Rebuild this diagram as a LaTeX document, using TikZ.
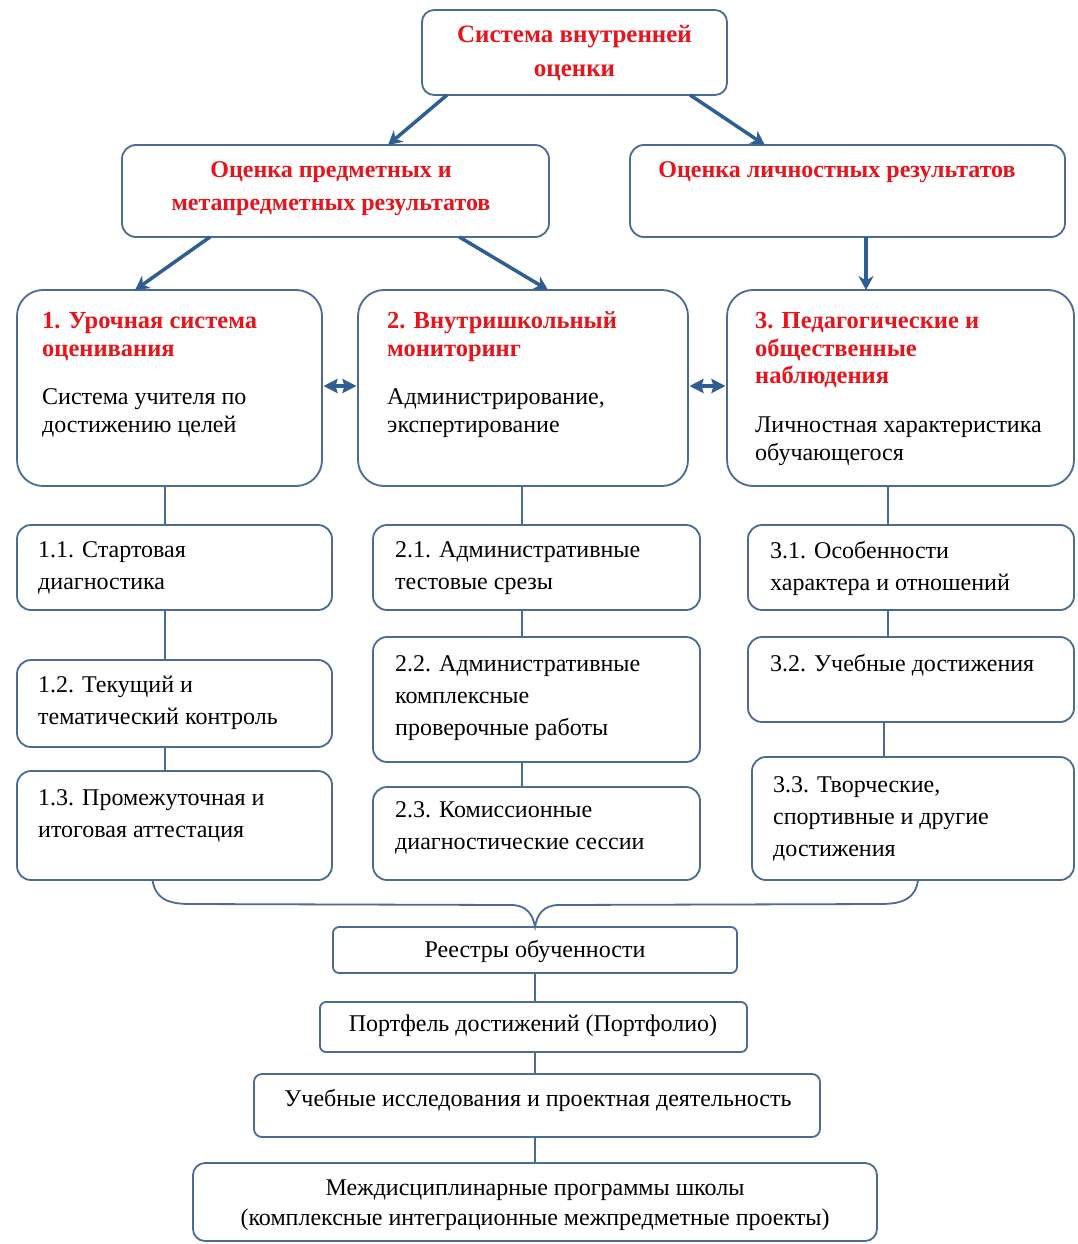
\documentclass[tikz,border=0pt]{standalone}
\usepackage{fontspec}
\setmainfont{Liberation Serif}
\usetikzlibrary{arrows.meta,calc}
\definecolor{bordc}{RGB}{74,107,150}
\definecolor{arrc}{RGB}{46,94,147}
\definecolor{redc}{RGB}{230,20,27}
\newcommand\mkbox[6]{\node[box, rounded corners=#6, minimum width={#4-#2}, minimum height={#5-#3}] (#1) at ({(#2+#4)/2},{(#3+#5)/2}) {};}
\tikzset{
  box/.style={draw=bordc, line width=1.8pt, inner sep=0pt, outer sep=0pt, fill=white},
  ttl/.style={text=redc, font=\bfseries\fontsize{24.5}{27.5}\selectfont, inner sep=0pt, align=left, anchor=west},
  bodytxt/.style={text=black, font=\fontsize{24}{28}\selectfont, inner sep=0pt, align=left, anchor=west},
  subtxt/.style={text=black, font=\fontsize{24}{32}\selectfont, inner sep=0pt, align=left, anchor=west},
  headtxt/.style={text=redc, font=\bfseries\fontsize{24}{33}\selectfont, inner sep=0pt, align=center},
  bottxt/.style={text=black, font=\fontsize{24}{30}\selectfont, inner sep=0pt, align=center},
  arr/.style={draw=arrc, line width=3.5pt, -{Stealth[length=14pt,width=15pt]}},
  darr/.style={draw=arrc, line width=4pt, shorten <=1.5pt, shorten >=1.5pt, {Stealth[length=14pt,width=14pt,inset=2pt]}-{Stealth[length=14pt,width=14pt,inset=2pt]}},
  conn/.style={draw=bordc, line width=1.8pt},
}
\begin{document}
\begin{tikzpicture}[x=1pt,y=-1pt]
\useasboundingbox[fill=white] (0,0) rectangle (1077,1244);
% top levels
\mkbox{top}{422}{10}{727}{95}{12}
\node[headtxt, font=\bfseries\fontsize{25}{34}\selectfont] (topt) at (574.5,53) {Система внутренней\\оценки};
\mkbox{ll}{122}{145}{549}{237}{14}
\node[headtxt] (llt) at (331,188.5) {Оценка предметных и\\метапредметных результатов};
\mkbox{lr}{630}{145}{1065}{237}{14}
\node[headtxt] (lrt) at (837,172) {Оценка личностных результатов};
% third level
\mkbox{b1}{17}{290}{322}{486}{26}
\node[ttl] (b1t) at (42,336.5) {1. Урочная система\\оценивания};
\node[bodytxt] (b1b) at (42,413) {Система учителя по\\достижению целей};
\mkbox{b2}{358}{290}{688}{486}{26}
\node[ttl] (b2t) at (387,336.5) {2. Внутришкольный\\мониторинг};
\node[bodytxt] (b2b) at (387,413) {Администрирование,\\экспертирование};
\mkbox{b3}{727}{290}{1074}{486}{26}
\node[ttl] (b3t) at (755,350.5) {3. Педагогические и\\общественные\\наблюдения};
\node[bodytxt] (b3b) at (755,441.5) {Личностная характеристика\\обучающегося};
% sub boxes
\mkbox{b11}{17}{525}{332}{610}{14}
\node[subtxt] (b11t) at (38,568) {1.1. Стартовая\\диагностика};
\mkbox{b12}{17}{660}{332}{747}{14}
\node[subtxt] (b12t) at (38,702.5) {1.2. Текущий и\\тематический контроль};
\mkbox{b13}{17}{771}{332}{880}{14}
\node[subtxt] (b13t) at (38,815.5) {1.3. Промежуточная и\\итоговая аттестация};
\mkbox{b21}{373}{525}{700}{610}{14}
\node[subtxt] (b21t) at (395,568) {2.1. Административные\\тестовые срезы};
\mkbox{b22}{373}{637}{700}{762}{14}
\node[subtxt] (b22t) at (395,698) {2.2. Административные\\комплексные\\проверочные работы};
\mkbox{b23}{373}{787}{700}{880}{14}
\node[subtxt] (b23t) at (395,827.5) {2.3. Комиссионные\\диагностические сессии};
\mkbox{b31}{748}{525}{1074}{610}{14}
\node[subtxt] (b31t) at (770,568) {3.1. Особенности\\характера и отношений};
\mkbox{b32}{748}{637}{1074}{722}{14}
\node[subtxt] (b32t) at (770,665) {3.2. Учебные достижения};
\mkbox{b33}{752}{757}{1074}{880}{14}
\node[subtxt] (b33t) at (773,818.5) {3.3. Творческие,\\спортивные и другие\\достижения};
% bottom
\mkbox{r1}{333}{927}{737}{973}{6}
\node[bottxt] (r1t) at (535,951) {Реестры обученности};
\mkbox{r2}{320}{1002}{747}{1052}{6}
\node[bottxt] (r2t) at (533,1026) {Портфель достижений (Портфолио)};
\mkbox{r3}{254}{1074}{820}{1137}{8}
\node[bottxt] (r3t) at (538,1100) {Учебные исследования и проектная деятельность};
\mkbox{r4}{193}{1163}{877}{1241}{12}
\node[bottxt] (r4t) at (535,1205) {Междисциплинарные программы школы\\(комплексные интеграционные межпредметные проекты)};
% coordinates for vertical connectors
\coordinate (x1) at (165,0);
\coordinate (x2) at (522,0);
\coordinate (x3) at (888,0);
\coordinate (x3b) at (884,0);
\coordinate (x4) at (535,0);
\coordinate (x5) at (866,0);
\draw[conn] (b1.south -| x1) -- (b11.north -| x1);
\draw[conn] (b11.south -| x1) -- (b12.north -| x1);
\draw[conn] (b12.south -| x1) -- (b13.north -| x1);
\draw[conn] (b2.south -| x2) -- (b21.north -| x2);
\draw[conn] (b21.south -| x2) -- (b22.north -| x2);
\draw[conn] (b22.south -| x2) -- (b23.north -| x2);
\draw[conn] (b3.south -| x3) -- (b31.north -| x3);
\draw[conn] (b31.south -| x3) -- (b32.north -| x3);
\draw[conn] (b32.south -| x3b) -- (b33.north -| x3b);
\draw[conn] (r1.south -| x4) -- (r2.north -| x4);
\draw[conn] (r2.south -| x4) -- (r3.north -| x4);
\draw[conn] (r3.south -| x4) -- (r4.north -| x4);
% arrows
\draw[arr] ($(top.south west)!0.082!(top.south east)$) -- ($(ll.north west)!0.623!(ll.north east)$);
\draw[arr] ($(top.south west)!0.879!(top.south east)$) -- ($(lr.north west)!0.31!(lr.north east)$);
\draw[arr] ($(ll.south west)!0.206!(ll.south east)$) -- ($(b1.north west)!0.387!(b1.north east)$);
\draw[arr] ($(ll.south west)!0.79!(ll.south east)$) -- ($(b2.north west)!0.576!(b2.north east)$);
\draw[arr] (lr.south -| x5) -- (b3.north -| x5);
\draw[darr] ([yshift=2pt]b1.east) -- ([yshift=2pt]b2.west);
\draw[darr] ([yshift=2pt]b2.east) -- ([yshift=2pt]b3.west);
% brace
\coordinate (bl) at ($(b13.south west)!0.43!(b13.south east)$);
\coordinate (br) at ($(b33.south west)!0.516!(b33.south east)$);
\draw[conn] (bl) .. controls ($(bl)+(3,18)$) and ($(bl)+(14,24)$) .. ($(bl)+(38,24)$)
  -- ($(r1.north)+(-24,-22)$) .. controls ($(r1.north)+(-8,-22)$) and ($(r1.north)+(-2,-12)$) .. (r1.north)
  .. controls ($(r1.north)+(2,-12)$) and ($(r1.north)+(8,-22)$) .. ($(r1.north)+(24,-22)$)
  -- ($(br)+(-38,24)$) .. controls ($(br)+(-14,24)$) and ($(br)+(-3,18)$) .. (br);
\end{tikzpicture}
\end{document}
